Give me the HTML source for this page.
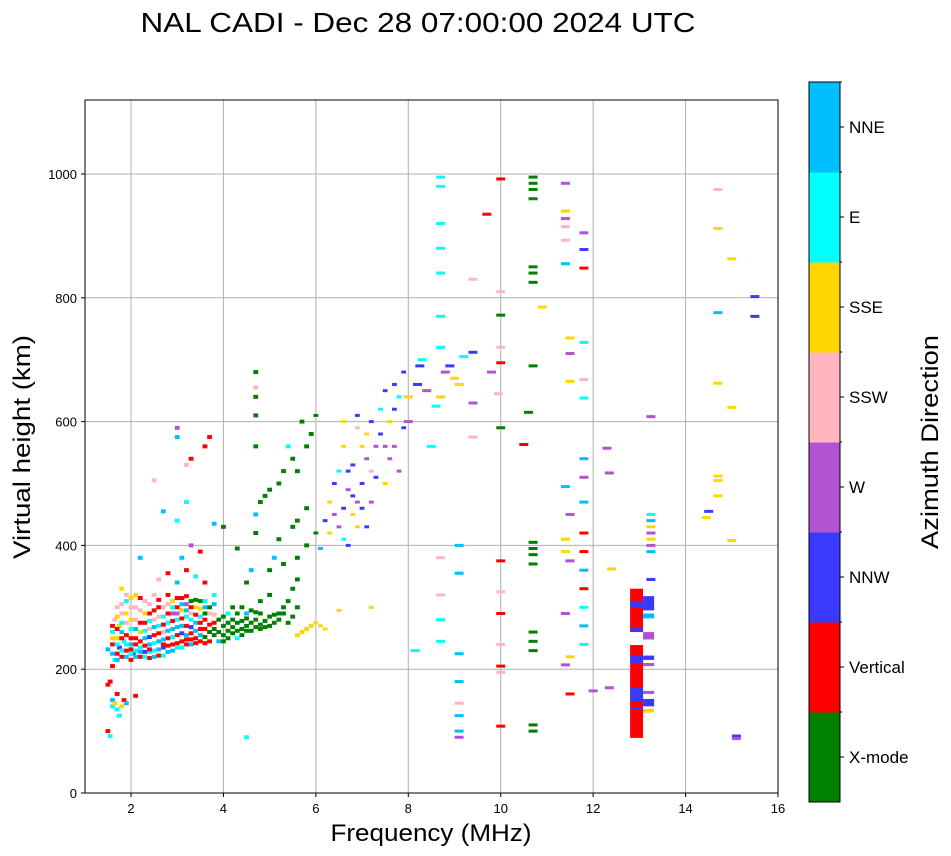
<!DOCTYPE html>
<html><head><meta charset="utf-8">
<style>
body{margin:0;background:#fff;}
svg{display:block;font-family:"Liberation Sans","DejaVu Sans",sans-serif;}
</style></head>
<body>
<svg id="chart" width="951" height="856" viewBox="0 0 951 856">
<text x="418" y="32" font-size="28" textLength="555" lengthAdjust="spacingAndGlyphs" text-anchor="middle">NAL CADI - Dec 28 07:00:00 2024 UTC</text>
<g id="grid"></g>
<g id="marks"></g>
<rect x="85" y="100" width="693" height="693" fill="none" stroke="#000" stroke-width="1"/>
<g id="xticks"></g>
<g id="yticks"></g>
<text x="431" y="841" font-size="24" textLength="201" lengthAdjust="spacingAndGlyphs" text-anchor="middle">Frequency (MHz)</text>
<text transform="translate(30,447) rotate(-90)" font-size="24" textLength="224" lengthAdjust="spacingAndGlyphs" text-anchor="middle">Virtual height (km)</text>
<g id="cbar"></g>
<text transform="translate(938,442) rotate(-90)" font-size="24" textLength="214" lengthAdjust="spacingAndGlyphs" text-anchor="middle">Azimuth Direction</text>
</svg>
<script>
const directions=["X-mode","Vertical","NNW","W","SSW","SSE","E","NNE"];
const dirColors=["#008000","#ff0000","#3a3aff","#b452d4","#ffb6c1","#ffd700","#00ffff","#00bfff"];
const xTicks=[2,4,6,8,10,12,14,16];
const yTicks=[0,200,400,600,800,1000];
// [freq MHz, virtual height km, direction index]
const echoes=[
[1.5,100,1],[1.55,92,6],[1.5,175,1],[1.55,180,1],[1.6,140,6],[1.6,150,7],[1.65,145,5],[1.7,135,6],[1.7,160,1],[1.75,125,6],[1.8,140,5],[1.85,150,1],[1.9,145,7],[2.1,157,1],[1.6,205,1],[1.65,215,6],
[1.5,232,7],[1.6,240,1],[1.6,260,6],[1.65,280,4],[1.7,225,1],[1.7,250,5],[1.7,300,4],[1.75,235,2],[1.75,270,5],[1.8,220,1],[1.8,260,7],[1.8,290,4],[1.8,330,5],[1.85,245,6],[1.9,230,1],[1.9,275,4],[1.9,310,6],
[2.0,215,1],[2.0,240,7],[2.0,265,6],[2.0,300,4],[2.05,225,2],[2.1,250,1],[2.1,280,4],[2.1,320,5],[2.2,220,1],[2.2,235,6],[2.2,260,5],[2.2,295,4],[2.3,228,2],[2.3,250,7],[2.3,275,1],[2.3,310,4],
[2.4,218,1],[2.4,240,7],[2.4,265,4],[2.4,290,1],[2.5,230,6],[2.5,255,1],[2.5,280,4],[2.5,320,4],[2.6,222,1],[2.6,245,7],[2.6,270,6],[2.6,300,1],[2.7,235,2],[2.7,260,4],[2.7,285,6],[2.7,240,1],
[2.8,228,7],[2.8,250,1],[2.8,275,6],[2.8,305,4],[2.9,240,1],[2.9,265,7],[2.9,290,3],[2.9,310,5],[3.0,235,6],[3.0,255,1],[3.0,280,6],[3.0,300,1],[3.1,245,1],[3.1,270,7],[3.1,295,5],[3.1,315,1],
[3.2,240,1],[3.2,255,7],[3.2,285,6],[3.2,305,3],[3.3,248,1],[3.3,268,2],[3.3,290,4],[3.3,310,0],[3.4,250,1],[3.4,275,7],[3.4,300,5],[3.5,245,1],[3.5,265,1],[3.5,285,6],[3.5,310,0],[3.6,252,0],[3.6,280,1],[3.6,300,7],[3.7,260,0],[3.7,290,4],[3.8,255,0],[3.8,275,1],
[1.6,225,7],[1.6,250,5],[1.6,270,1],[1.7,215,7],[1.7,240,6],[1.7,265,1],[1.7,285,5],[1.8,230,6],[1.8,250,1],[1.8,275,6],[1.8,305,4],[1.9,220,7],[1.9,240,6],[1.9,255,1],[1.9,290,5],[1.9,320,4],
[2.0,225,6],[2.0,232,1],[2.0,250,1],[2.0,280,5],[2.0,315,5],[2.1,220,7],[2.1,230,6],[2.1,240,1],[2.1,265,7],[2.1,300,4],[2.2,228,7],[2.2,245,1],[2.2,275,1],[2.2,315,1],[2.3,220,6],[2.3,238,1],[2.3,262,6],[2.3,290,5],
[2.4,228,6],[2.4,232,1],[2.4,252,2],[2.4,278,6],[2.4,305,4],[2.5,220,7],[2.5,242,6],[2.5,268,7],[2.5,295,1],[2.6,232,7],[2.6,258,1],[2.6,285,4],[2.6,312,1],[2.7,222,6],[2.7,248,7],[2.7,272,1],[2.7,300,4],
[2.8,238,1],[2.8,262,7],[2.8,290,1],[2.8,320,1],[2.9,230,7],[2.9,252,6],[2.9,278,1],[2.9,300,6],[3.0,242,1],[3.0,268,7],[3.0,290,3],[3.0,315,1],[3.1,235,6],[3.1,258,2],[3.1,282,1],[3.1,305,7],
[3.2,248,1],[3.2,270,1],[3.2,295,7],[3.2,318,1],[3.3,240,7],[3.3,258,1],[3.3,280,6],[3.3,300,1],[3.4,242,1],[3.4,262,7],[3.4,288,1],[3.4,312,0],[3.5,255,7],[3.5,275,1],[3.5,298,5],[3.6,242,1],[3.6,265,1],[3.6,290,0],[3.6,310,6],
[3.7,245,1],[3.7,272,1],[3.7,300,0],[3.8,265,0],[3.8,288,4],[3.8,305,7],[3.9,260,0],[3.9,280,0],[4.0,245,0],[4.0,285,0],[4.1,250,0],[4.1,275,0],[4.2,268,0],[4.2,300,0],[4.3,262,0],[4.3,290,0],[4.4,255,0],[4.4,278,0],[4.5,262,0],[4.5,282,0],[4.6,275,0],[4.6,295,0],[4.7,268,0],[4.7,292,0],[4.8,265,0],[4.8,290,0],[4.9,278,0],[5.0,270,0],[5.1,288,0],[5.2,280,0],[5.3,290,0],[5.4,275,0],[5.5,285,0],[5.6,300,0],
[3.9,245,7],[4.0,255,0],[4.0,270,0],[4.1,262,0],[4.1,290,6],[4.2,258,0],[4.2,280,0],[4.3,250,6],[4.3,275,0],[4.4,265,0],[4.4,300,0],[4.5,270,0],[4.5,290,7],[4.6,262,0],[4.7,280,0],[4.8,272,0],[4.9,268,0],[5.0,285,0],[5.1,275,0],[5.2,290,0],[5.3,300,0],[5.4,310,0],[5.0,320,0],[4.8,310,0],[5.5,330,0],[5.6,345,0],
[3.0,340,7],[3.2,360,1],[3.4,350,6],[3.6,340,1],[3.8,320,6],[2.8,355,1],[2.6,345,4],[3.1,380,7],[3.3,400,3],[3.5,390,1],[3.0,440,6],[3.2,470,6],[3.2,530,4],[3.3,540,1],[3.0,575,7],[3.6,560,1],[3.7,575,1],[3.0,590,3],[2.7,455,7],[2.5,505,4],[3.8,435,7],[2.2,380,7],
[4.0,430,0],[4.3,395,0],[4.5,340,0],[4.6,360,7],[4.7,420,0],[4.7,450,7],[4.8,470,0],[4.9,480,0],[4.7,560,0],[4.7,610,0],[4.7,640,0],[4.7,680,0],[4.7,655,4],[5.0,490,0],[5.2,500,0],[5.3,520,0],[5.4,560,6],[5.5,540,0],[5.6,520,0],[5.7,600,0],[5.8,560,0],[5.9,580,0],[6.0,610,0],[5.8,460,0],[5.5,430,0],[5.6,440,0],[5.2,410,0],[5.1,380,7],[5.0,360,0],[5.3,370,0],[5.6,380,0],[5.8,400,0],[6.0,420,0],[6.1,395,7],
[5.6,255,5],[5.7,260,5],[5.8,265,5],[5.9,270,5],[6.0,275,5],[6.1,270,5],[6.2,265,5],[6.5,295,5],[7.2,300,5],
[6.2,440,2],[6.3,470,5],[6.4,500,2],[6.5,430,3],[6.5,520,6],[6.6,460,2],[6.6,560,5],[6.7,400,2],[6.7,490,3],[6.8,450,5],[6.8,530,2],[6.9,470,3],[6.9,590,4],[7.0,500,2],[7.0,560,5],[7.1,430,2],[7.1,540,3],[7.2,520,4],[7.2,600,2],[7.3,560,3],[7.4,620,6],[7.4,580,2],[7.5,500,5],[7.5,650,2],[7.6,540,3],[7.6,600,5],[7.7,660,2],[7.8,520,3],[7.8,640,6],[7.9,680,2],[8.0,600,3],[8.0,640,5],[6.6,600,5],[6.9,610,2],[7.7,560,3],
[6.3,420,5],[6.4,450,3],[6.6,410,6],[6.8,480,2],[6.9,430,5],[7.0,460,2],[7.1,580,5],[7.3,510,2],[7.5,560,3],[7.7,620,2],[7.9,590,2],[6.7,520,2],[7.2,470,3],
[8.2,660,2],[8.25,690,2],[8.3,700,6],[8.4,650,3],[8.5,560,6],[8.6,625,6],[8.7,640,5],[8.8,680,3],[8.9,690,2],[9.0,670,5],[9.1,660,5],[9.2,705,6],[9.4,712,2],[9.4,630,3],[9.8,680,3],
[8.7,995,6],[8.7,980,6],[8.7,920,6],[8.7,880,6],[8.7,840,6],[8.7,770,6],[8.7,720,6],[8.7,380,4],[8.7,320,4],[8.7,280,6],[8.7,245,6],[8.15,230,6],[9.1,400,7],[9.1,355,7],[9.1,225,7],[9.1,180,7],[9.1,145,4],[9.1,125,7],[9.1,90,3],[9.1,100,7],[9.4,830,4],[9.4,575,4],[9.7,935,1],
[10.0,992,1],[10.0,810,4],[10.0,772,0],[10.0,720,4],[10.0,695,1],[10.0,590,0],[10.0,375,1],[10.0,325,4],[10.0,290,1],[10.0,240,4],[10.0,205,1],[10.0,195,4],[10.0,108,1],[9.95,645,4],
[10.7,995,0],[10.7,985,0],[10.7,975,0],[10.7,960,0],[10.7,850,0],[10.7,840,0],[10.7,825,0],[10.7,690,0],[10.7,405,0],[10.7,395,0],[10.7,385,0],[10.7,370,0],[10.7,260,0],[10.7,245,0],[10.7,230,0],[10.7,110,0],[10.7,100,0],[10.6,615,0],[10.5,563,1],[10.9,785,5],
[11.4,985,3],[11.4,940,5],[11.4,928,3],[11.4,915,4],[11.4,893,4],[11.4,855,7],[11.5,735,5],[11.5,710,3],[11.5,665,5],[11.4,495,7],[11.5,450,3],[11.4,410,5],[11.5,375,3],[11.4,390,5],[11.4,290,3],[11.5,220,5],[11.4,207,3],[11.5,160,1],
[11.8,905,3],[11.8,878,2],[11.8,848,1],[11.8,728,6],[11.8,668,4],[11.8,638,6],[11.8,540,7],[11.8,510,3],[11.8,470,7],[11.8,420,1],[11.8,390,1],[11.8,360,7],[11.8,330,1],[11.8,300,6],[11.8,270,7],[11.8,240,6],[12.0,165,3],[12.3,557,3],[12.35,517,3],[12.4,362,5],[12.35,170,3],
[13.25,608,3],[13.25,450,6],[13.25,440,7],[13.25,430,5],[13.25,420,3],[13.25,410,5],[13.25,400,3],[13.25,390,7],[13.25,345,2],
[14.5,455,2],[14.45,445,5],[14.7,975,4],[14.7,912,5],[14.7,776,7],[14.7,662,5],[14.7,512,5],[14.7,505,5],[14.7,480,5],[15.0,863,5],[15.0,623,5],[15.0,408,5],[15.5,802,2],[15.5,770,2],[15.1,92,2],[15.1,88,3],[4.5,90,6]
];
// [f start, f end, h low, h high, direction index]
const spans=[
[12.8,13.08,260,330,1],[12.8,13.08,89,239,1],[12.8,13.08,300,310,2],[12.8,13.08,262,268,2],[12.8,13.08,210,222,2],[12.8,13.08,148,170,2],[12.8,13.08,135,138,2],
[13.08,13.32,295,318,2],[13.08,13.32,282,290,7],[13.08,13.32,248,260,3],[13.08,13.32,215,222,2],[13.08,13.32,205,210,3],[13.08,13.32,160,165,3],[13.08,13.32,140,152,2],[13.08,13.32,130,136,5]
];
const NS="http://www.w3.org/2000/svg";
const X=f=>131+(f-2)*46.214;
const Y=h=>793-h*0.6190;
function mk(tag,attrs,parent){const e=document.createElementNS(NS,tag);for(const k in attrs)e.setAttribute(k,attrs[k]);parent.appendChild(e);return e;}
const grid=document.getElementById('grid'),xt=document.getElementById('xticks'),yt=document.getElementById('yticks'),marks=document.getElementById('marks'),cbar=document.getElementById('cbar');
xTicks.forEach(t=>{
 const x=X(t);
 const g=mk('line',{x1:x,x2:x,y1:100,y2:793,stroke:'#b0b0b0','stroke-width':1},grid);
 
 
 const tk=mk('line',{x1:x,x2:x,y1:793,y2:797,stroke:'#000'},xt);
 
 
 const l=mk('text',{x:x,y:813,'font-size':13,'text-anchor':'middle'},xt);l.textContent=t;
 
 
});
yTicks.forEach(t=>{
 const y=Y(t);
 const g=mk('line',{x1:85,x2:778,y1:y,y2:y,stroke:'#b0b0b0','stroke-width':1},grid);
 
 
 const tk=mk('line',{x1:81,x2:85,y1:y,y2:y,stroke:'#000'},yt);
 
 
 const l=mk('text',{x:77,y:y+5,'font-size':13,'text-anchor':'end'},yt);l.textContent=t;
 
 
});
echoes.forEach(p=>{
 const w=p[0]<8?4.8:9;
 const h=p[0]<6?4:3;
 const r=mk('rect',{x:X(p[0])-w/2,y:Y(p[1])-h/2,width:w,height:h,fill:dirColors[p[2]]},marks);
 
 
});
spans.forEach(s=>{
 const r=mk('rect',{x:X(s[0]),y:Y(s[3]),width:X(s[1])-X(s[0]),height:Y(s[2])-Y(s[3]),fill:dirColors[s[4]]},marks);
 
 
});
const cbTop=82,cbH=720,seg=cbH/directions.length;
directions.forEach((d,i)=>{
 const y0=cbTop+cbH-(i+1)*seg;
 const r=mk('rect',{x:809,y:y0,width:31,height:seg+0.5,fill:dirColors[i]},cbar);
 
 
 const tk=mk('line',{x1:840,x2:844,y1:y0+seg/2,y2:y0+seg/2,stroke:'#000'},cbar);
 
 
 const mt=mk('line',{x1:840,x2:842,y1:y0,y2:y0,stroke:'#000'},cbar);
 
 
 const l=mk('text',{x:849,y:y0+seg/2+6,'font-size':17},cbar);l.textContent=d;
 
 
});
const fr=mk('rect',{x:809,y:cbTop,width:31,height:cbH,fill:'none',stroke:'#000'},cbar);


</script>
</body></html>
